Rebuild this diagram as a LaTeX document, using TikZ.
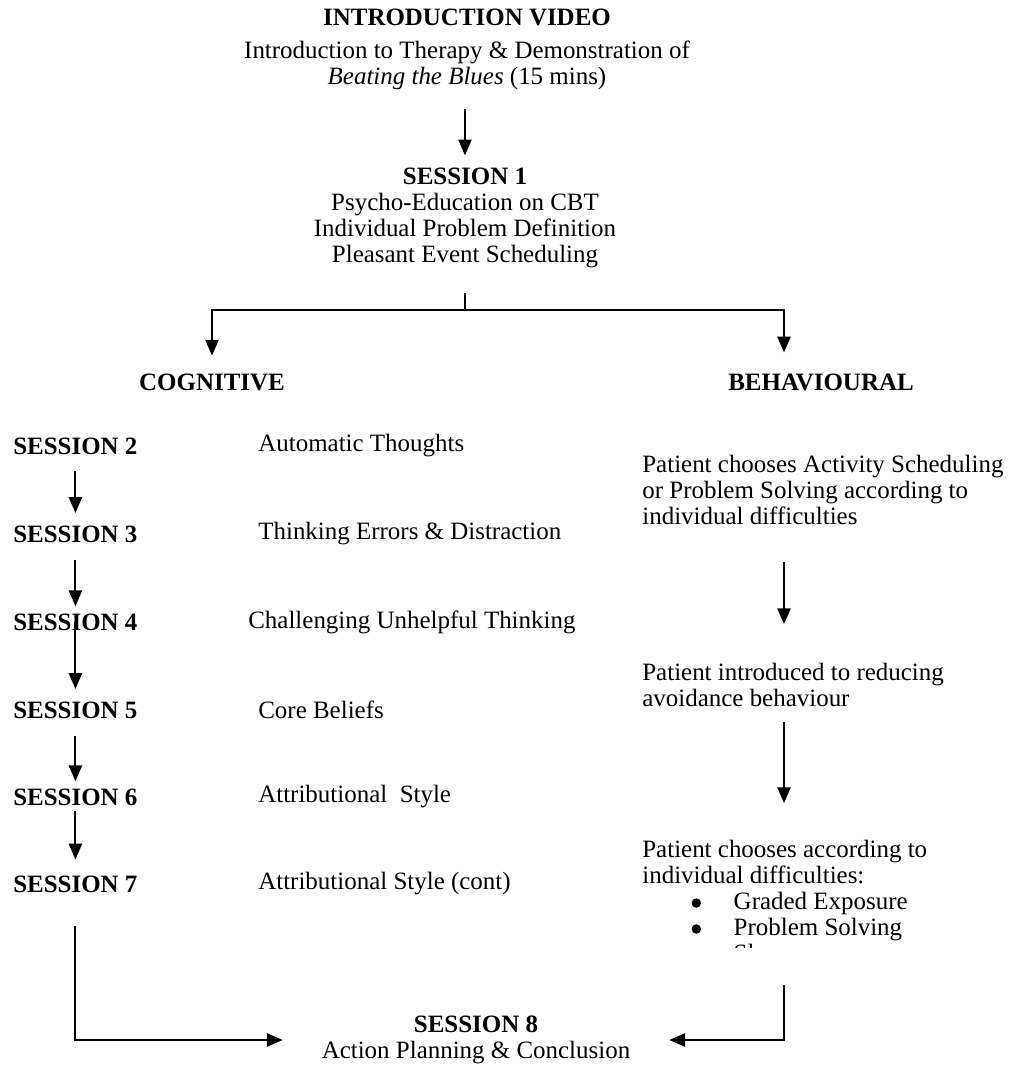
\documentclass[tikz,border=0pt]{standalone}
\usepackage{fontspec}
\setmainfont{Liberation Serif}
\usetikzlibrary{arrows.meta}

\tikzset{
  line/.style={line width=1.1pt},
  flow/.style={line width=1.1pt, -{Triangle[length=9pt,width=7.5pt]}},
  txt/.style={inner sep=0pt, font=\fontsize{14.2}{14.8}\selectfont},
  head/.style={inner sep=0pt, font=\fontsize{14.2}{14.8}\selectfont\bfseries},
}
\newcommand{\bul}{\hspace*{28pt}\makebox[24pt][l]{\tikz[baseline=-3.8pt]\fill (0pt,0pt) circle (2.7pt);}}

\begin{document}
\begin{tikzpicture}[x=0.2mm, y=-0.2mm]
\useasboundingbox (0,0) rectangle (1013,1065);

\node[txt, align=center] (intro) at (467,49) {\textbf{INTRODUCTION VIDEO}\\[4pt]Introduction to Therapy \& Demonstration of\\\textit{Beating the Blues} (15 mins)};
\node[txt, align=center] (s1) at (465,218) {\textbf{SESSION 1}\\Psycho-Education on CBT\\Individual Problem Definition\\Pleasant Event Scheduling};
\draw[flow, shorten <=11pt, shorten >=7pt] (intro.south -| s1.north) -- (s1.north);

\coordinate (split) at (465,310);
\coordinate (bx) at (784,370);
\node[head] (cog) at (212,382) {COGNITIVE};
\node[head] (beh) at (821,382) {BEHAVIOURAL};
\draw[line, shorten <=14pt] (s1.south) -- (split);
\draw[flow, shorten >=10pt] (split) -| (cog.north);
\draw[flow, shorten >=10pt] (split) -| (bx);

\node[head, anchor=west] (s2) at (13,446) {SESSION 2};
\node[head, anchor=west] (s3) at (13,534) {SESSION 3};
\node[head, anchor=west] (s4) at (13,622) {SESSION 4};
\node[head, anchor=west] (s5) at (13,710) {SESSION 5};
\node[head, anchor=west] (s6) at (13,797) {SESSION 6};
\node[head, anchor=west] (s7) at (13,884) {SESSION 7};

\node[txt, anchor=west] (t2) at (258,446) {Automatic Thoughts};
\node[txt, anchor=west] (t3) at (258,534) {Thinking Errors \& Distraction};
\node[txt, anchor=west] (t4) at (248,622) {Challenging Unhelpful Thinking};
\node[txt, anchor=west] (t5) at (258,710) {Core Beliefs};
\node[txt, anchor=west] (t6) at (258,797) {Attributional\ \ Style};
\node[txt, anchor=west] (t7) at (258,884) {Attributional Style (cont)};

\draw[flow, shorten <=9pt, shorten >=7pt] (s2.south) -- (s3.north);
\draw[flow, shorten <=10pt, shorten >=4pt] (s3.south) -- (s4.north);
\draw[flow, shorten >=7pt] (s4.center) -- (s5.north);
\draw[flow, shorten <=10pt, shorten >=4pt] (s5.south) -- (s6.north);
\draw[flow, shorten <=3pt, shorten >=9pt] (s6.south) -- (s7.north);

\node[txt, align=left, anchor=west] (r1) at (642,490) {Patient chooses Activity Scheduling\\or Problem Solving according to\\individual difficulties};
\node[txt, align=left, anchor=west] (r2) at (642,685) {Patient introduced to reducing\\avoidance behaviour};
\begin{scope}
\clip (600,820) rectangle (1013,947);
\node[txt, align=left, anchor=north west] (r3) at (642,840) {Patient chooses according to\\individual difficulties:\\
\bul Graded Exposure\\
\bul Problem Solving\\
\bul Sleep};
\end{scope}
\draw[flow, shorten <=21pt, shorten >=22pt] (r1.south -| bx) -- (r2.north -| bx);
\draw[flow, shorten <=8.5pt, shorten >=21pt] (r2.south -| bx) -- (r3.north -| bx);

\node[txt, align=center] (s8) at (476,1040) {\textbf{SESSION 8}\\Action Planning \& Conclusion};
\draw[flow, shorten <=19pt, shorten >=22pt] (s7.south) |- (s8.west);
\draw[flow, shorten <=10pt, shorten >=22pt] (r3.south -| bx) |- (s8.east);
\end{tikzpicture}
\end{document}
